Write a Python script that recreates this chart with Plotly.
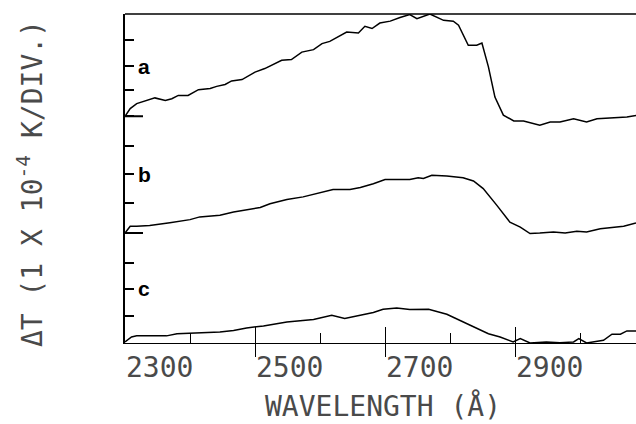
import plotly.graph_objects as go

# ---- data (wavelength in Å, signal in divisions of 1e-4 K) ----
wl_a = [2300, 2308, 2318, 2328, 2346, 2362, 2372, 2382, 2397, 2413, 2431, 2441, 2454, 2464, 2480,
        2500, 2515, 2541, 2556, 2572, 2590, 2603, 2615, 2641, 2659, 2669, 2680, 2692, 2708, 2723,
        2738, 2749, 2769, 2790, 2805, 2813, 2828, 2841, 2849, 2859, 2869, 2882, 2898, 2913, 2938,
        2954, 2969, 2990, 3010, 3026, 3051, 3072, 3086]
dt_a = [8.27, 8.55, 8.73, 8.81, 8.94, 8.85, 8.91, 9.03, 9.03, 9.24, 9.28, 9.36, 9.43, 9.56, 9.61,
        9.88, 10.01, 10.31, 10.34, 10.61, 10.70, 10.92, 11.00, 11.34, 11.31, 11.55, 11.47, 11.67, 11.74, 11.87,
        11.98, 11.83, 12.0, 11.77, 11.74, 11.59, 10.86, 10.86, 10.94, 10.07, 8.97, 8.31, 8.10, 8.10, 7.94,
        8.06, 8.06, 8.18, 8.06, 8.18, 8.22, 8.24, 8.30]

wl_b = [2300, 2308, 2318, 2338, 2369, 2400, 2415, 2446, 2467, 2508, 2523, 2549, 2574, 2600, 2620,
        2646, 2662, 2682, 2700, 2738, 2751, 2759, 2772, 2795, 2820, 2836, 2851, 2872, 2892, 2908,
        2923, 2938, 2959, 2977, 2995, 3010, 3031, 3067, 3080, 3086]
dt_b = [4.01, 4.26, 4.26, 4.29, 4.39, 4.50, 4.60, 4.66, 4.78, 4.94, 5.08, 5.23, 5.33, 5.49, 5.60,
        5.60, 5.67, 5.81, 5.96, 5.96, 6.03, 6.00, 6.12, 6.09, 6.03, 5.91, 5.63, 5.02, 4.41, 4.23,
        3.99, 4.01, 4.05, 4.01, 4.08, 4.05, 4.17, 4.26, 4.35, 4.38]

wl_c = [2300, 2310, 2318, 2364, 2380, 2415, 2446, 2467, 2487, 2513, 2549, 2590, 2618, 2638, 2656,
        2682, 2697, 2718, 2738, 2767, 2795, 2815, 2836, 2859, 2877, 2897, 2908, 2923, 2948, 2969,
        2990, 2998, 3010, 3036, 3049, 3062, 3072, 3086]
dt_c = [0.04, 0.22, 0.26, 0.26, 0.34, 0.38, 0.40, 0.46, 0.55, 0.62, 0.77, 0.86, 1.01, 0.89, 0.97,
        1.11, 1.23, 1.28, 1.22, 1.23, 1.05, 0.83, 0.62, 0.34, 0.22, 0.04, 0.16, 0.0, 0.04, 0.01,
        0.04, 0.16, 0.0, 0.10, 0.32, 0.32, 0.44, 0.44]

series_names = ["a", "b", "c"]
label_y = [10.10, 6.15, 1.98]          # tick positions carrying the a/b/c labels
baselines = [8.27, 4.01]               # zero marks (long crosses) for a and b

x_label_vals = [2300, 2500, 2700, 2900]
x_label_text = ["2300", "2500", "2700", "2900"]
x_major_ticks = [2500, 2700, 2900]
x_minor_ticks = [2400, 2600, 2800, 3000]
y_tick_vals = [0.97, 1.98, 2.90, 4.01, 5.11, 6.15, 7.18, 8.27, 9.22, 10.10, 11.07]

x_range = [2300, 3086]
y_range = [0, 12]

FONT = "DejaVu Sans Mono"
TXT = "#4a4a4a"

fig = go.Figure()
for wl, dt, nm in zip([wl_a, wl_b, wl_c], [dt_a, dt_b, dt_c], series_names):
    fig.add_trace(go.Scatter(x=wl, y=dt, mode="lines", name=nm,
                             line=dict(color="black", width=1.5), showlegend=False))

fig.update_layout(
    width=636, height=424,
    margin=dict(l=125, r=0, t=14, b=81),
    paper_bgcolor="white", plot_bgcolor="white",
    xaxis=dict(range=x_range, showgrid=False, zeroline=False, showline=True,
               linecolor="black", linewidth=1.2,
               tickmode="array", tickvals=x_major_ticks, ticks="outside",
               ticklen=13, tickwidth=1.2, tickcolor="black", showticklabels=False,
               minor=dict(tickmode="array", tickvals=x_minor_ticks, ticks="inside",
                          ticklen=10, tickwidth=1.2, tickcolor="black")),
    xaxis2=dict(range=x_range, overlaying="x", anchor="y", side="bottom",
                showgrid=False, zeroline=False, showline=False,
                tickmode="array", tickvals=x_major_ticks, ticks="inside",
                ticklen=16, tickwidth=1.2, tickcolor="black", showticklabels=False),
    yaxis=dict(range=y_range, showgrid=False, zeroline=False, showline=True,
               linecolor="black", linewidth=1.5,
               tickmode="array", tickvals=y_tick_vals, ticks="inside",
               ticklen=9, tickwidth=1.5, tickcolor="black", showticklabels=False),
)
# invisible trace to activate xaxis2
fig.add_trace(go.Scatter(x=[x_range[0]], y=[y_range[0]], xaxis="x2", mode="markers",
                         marker=dict(opacity=0), showlegend=False, hoverinfo="skip"))

# top frame line
fig.add_shape(type="line", xref="paper", yref="paper", x0=0, x1=1, y0=1, y1=1,
              line=dict(color="black", width=1.5))
# long cross marks at the baselines
for b in baselines:
    fig.add_shape(type="line", xref="x", yref="y", xsizemode="pixel", xanchor=x_range[0],
                  x0=-16, x1=18, y0=b, y1=b, line=dict(color="black", width=2))

# series letters
for nm, yv in zip(series_names, label_y):
    fig.add_annotation(x=x_range[0], y=yv, xref="x", yref="y", text="<b>%s</b>" % nm,
                       showarrow=False, xanchor="left", yanchor="middle", xshift=11,
                       font=dict(family="Liberation Sans", size=21, color="black"))

# x tick labels (left-aligned at their ticks)
for v, t in zip(x_label_vals, x_label_text):
    fig.add_annotation(x=v, y=0, xref="x", yref="paper", text=t, showarrow=False,
                       xanchor="left", yanchor="top", xshift=-1, yshift=-6,
                       font=dict(family=FONT, size=28, color=TXT))

# axis titles
fig.add_annotation(x=0.505, y=-0.19, xref="paper", yref="paper", text="WAVELENGTH (Å)",
                   showarrow=False, xanchor="center", yanchor="middle",
                   font=dict(family=FONT, size=28, color=TXT))
fig.add_annotation(x=-0.186, y=0.486, xref="paper", yref="paper",
                   text="ΔT (1 X 10<sup>-4</sup> K/DIV.)", textangle=-90,
                   showarrow=False, xanchor="center", yanchor="middle",
                   font=dict(family=FONT, size=28, color=TXT))

fig.write_html("out.html", config={"displayModeBar": False},
               post_script="document.body.style.margin='0';document.body.style.overflow='hidden';")
